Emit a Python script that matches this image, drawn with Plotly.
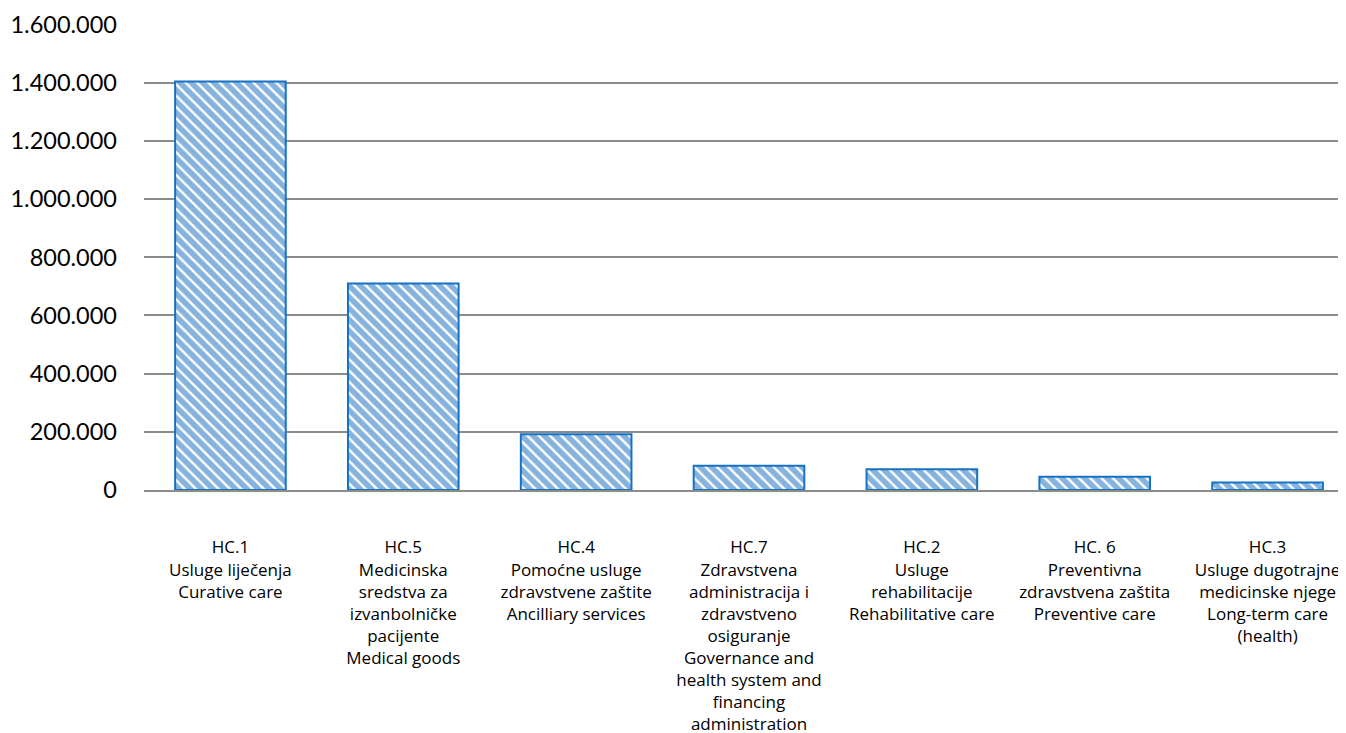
import plotly.graph_objects as go

categories = [
    "HC.1<br>Usluge liječenja<br>Curative care",
    "HC.5<br>Medicinska<br>sredstva za<br>izvanbolničke<br>pacijente<br>Medical goods",
    "HC.4<br>Pomoćne usluge<br>zdravstvene zaštite<br>Ancilliary services",
    "HC.7<br>Zdravstvena<br>administracija i<br>zdravstveno<br>osiguranje<br>Governance and<br>health system and<br>financing<br>administration",
    "HC.2<br>Usluge<br>rehabilitacije<br>Rehabilitative care",
    "HC. 6<br>Preventivna<br>zdravstvena zaštita<br>Preventive care",
    "HC.3<br>Usluge dugotrajne<br>medicinske njege<br>Long-term care<br>(health)",
]
values = [1404000, 710000, 192000, 83000, 71000, 45500, 26000]
tick_vals = [0, 200000, 400000, 600000, 800000, 1000000, 1200000, 1400000, 1600000]
tick_text = ["0", "200.000", "400.000", "600.000", "800.000", "1.000.000",
             "1.200.000", "1.400.000", "1.600.000"]

blue = "#0C68BE"

fig = go.Figure(go.Bar(
    x=categories,
    y=values,
    width=0.64,
    marker=dict(
        color="white",
        line=dict(color="#1672C4", width=2),
        pattern=dict(shape="\\", fgcolor=blue, bgcolor="white",
                     size=8, solidity=0.7, fillmode="overlay"),
    ),
))

fig.update_layout(
    width=1346, height=733,
    margin=dict(l=136, r=0, t=16, b=251),
    paper_bgcolor="white", plot_bgcolor="white",
    font=dict(family="Lato, Open Sans, sans-serif", color="#000000"),
    showlegend=False,
)
fig.update_xaxes(
    tickfont=dict(size=17, family="Open Sans, Lato, sans-serif"),
    showline=True, linecolor="#8C8C8C", linewidth=2,
    ticks="", tickangle=0,
    ticklabelstandoff=41,
    automargin=False,
)
fig.update_yaxes(
    range=[0, 1602000],
    tickvals=tick_vals, ticktext=tick_text,
    tickfont=dict(size=23.5),
    showgrid=True, gridcolor="#8C8C8C", gridwidth=2,
    zeroline=False, showline=False,
    ticklabelstandoff=26,
    automargin=False,
)

fig.write_html("out.html")
